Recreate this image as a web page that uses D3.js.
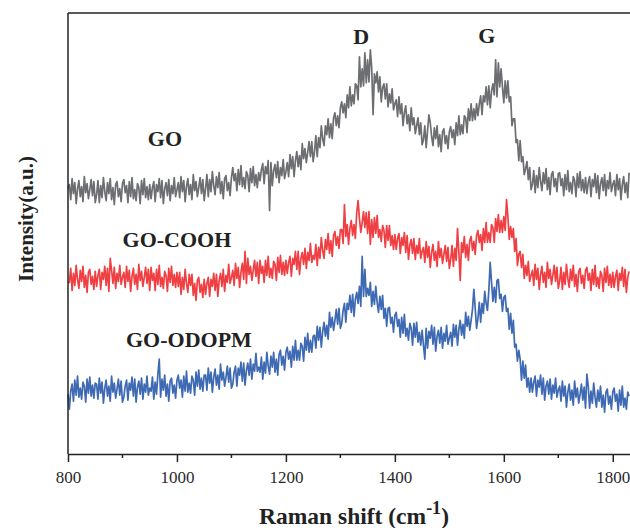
<!DOCTYPE html>
<html>
<head>
<meta charset="utf-8">
<script src="https://d3js.org/d3.v7.min.js"></script>
<style>
  body { margin: 0; background: #fff; }
  svg { display: block; }
</style>
</head>
<body>
<div id="chart"></div>
<script>
// Raman spectra, sampled every 2.5 cm-1 from 800 to 1830 (413 points each)
const shiftStart = 800;
const shiftStep  = 2.5;

const xTicks = [800, 1000, 1200, 1400, 1600, 1800];
const xMinorTicks = [900, 1100, 1300, 1500, 1700];

const seriesNames = ["GO", "GO-COOH", "GO-ODOPM"];
const peakNames   = ["D", "G"];

// intensity (a.u., each curve already offset)
// one row = 50 cm-1
const goValues = [
  266,
  270, 255, 276, 261, 272, 251, 266, 274, 258, 268, 253, 278, 262, 271, 256, 265, 275, 259, 273, 252,
  260, 274, 252, 269, 257, 277, 263, 254, 272, 261, 276, 255, 267, 250, 270, 273, 258, 266, 253, 271,
  275, 262, 269, 252, 273, 258, 277, 256, 265, 254, 271, 267, 251, 274, 260, 276, 257, 268, 255, 270,
  256, 267, 273, 253, 270, 263, 276, 257, 274, 251, 266, 272, 259, 275, 254, 269, 261, 277, 258, 265,
  272, 257, 278, 263, 274, 253, 268, 276, 260, 270, 255, 280, 264, 273, 258, 267, 277, 261, 275, 254,
  266, 280, 258, 275, 263, 283, 269, 260, 278, 267, 282, 261, 273, 256, 276, 279, 264, 272, 259, 277,
  287, 274, 281, 264, 285, 270, 289, 268, 277, 266, 283, 279, 263, 286, 272, 288, 269, 280, 267, 282,
  274, 285, 291, 271, 288, 281, 294, 244, 292, 269, 284, 290, 277, 293, 272, 287, 279, 295, 276, 283,
  292, 278, 300, 286, 298, 278, 294, 303, 288, 299, 285, 311, 296, 306, 292, 302, 313, 298, 313, 293,
  303, 319, 298, 317, 307, 329, 316, 309, 329, 320, 336, 317, 331, 316, 337, 342, 329, 339, 327, 347,
  353, 342, 351, 337, 360, 347, 368, 349, 360, 351, 371, 369, 355, 398, 368, 386, 369, 402, 372, 395,
  373, 405, 387, 340, 381, 372, 383, 363, 378, 353, 367, 371, 356, 371, 348, 361, 352, 366, 345, 351,
  355, 338, 358, 341, 351, 329, 342, 349, 331, 340, 324, 347, 330, 337, 321, 329, 337, 320, 332, 310,
  315, 329, 307, 324, 340, 332, 318, 309, 327, 316, 329, 308, 320, 303, 323, 326, 311, 319, 306, 323,
  328, 317, 325, 310, 332, 319, 339, 320, 330, 321, 339, 337, 322, 346, 334, 351, 334, 346, 335, 351,
  339, 351, 359, 340, 359, 353, 368, 350, 369, 347, 364, 371, 360, 395, 358, 392, 368, 386, 368, 352,
  374, 357, 374, 353, 358, 329, 336, 336, 312, 315, 294, 314, 293, 298, 280, 286, 293, 275, 287, 265,
  270, 284, 262, 279, 267, 287, 273, 264, 282, 271, 286, 265, 277, 260, 280, 283, 268, 276, 263, 281,
  282, 269, 276, 259, 280, 265, 284, 263, 272, 261, 278, 274, 258, 281, 267, 283, 264, 275, 262, 277,
  261, 272, 278, 258, 275, 268, 281, 262, 279, 256, 271, 277, 264, 280, 259, 274, 266, 282, 263, 270,
  274, 259, 280, 265, 276, 255, 270, 278, 262, 272, 257, 282
];

const goCoohValues = [
  172,
  172, 186, 164, 181, 169, 189, 175, 166, 184, 173, 188, 167, 179, 162, 182, 185, 170, 178, 165, 183,
  168, 179, 185, 165, 182, 175, 188, 169, 186, 163, 196, 184, 171, 187, 166, 181, 173, 189, 170, 177,
  182, 167, 188, 173, 184, 163, 178, 186, 170, 180, 165, 190, 174, 183, 168, 177, 187, 171, 185, 164,
  187, 174, 181, 164, 185, 170, 189, 168, 177, 166, 183, 179, 163, 186, 172, 188, 169, 180, 167, 182,
  168, 182, 160, 177, 165, 185, 171, 162, 180, 169, 180, 159, 171, 154, 174, 177, 162, 170, 157, 175,
  160, 171, 177, 158, 175, 168, 181, 164, 180, 158, 174, 181, 168, 185, 163, 179, 172, 190, 171, 177,
  184, 169, 191, 176, 187, 167, 182, 191, 175, 203, 171, 196, 180, 188, 174, 184, 194, 178, 192, 171,
  194, 181, 188, 172, 194, 179, 198, 177, 186, 176, 193, 190, 174, 197, 182, 199, 180, 192, 179, 194,
  181, 192, 198, 178, 196, 190, 203, 185, 203, 180, 196, 202, 190, 206, 186, 202, 194, 211, 192, 199,
  195, 210, 189, 207, 196, 217, 204, 196, 215, 205, 221, 201, 214, 198, 219, 223, 209, 218, 206, 225,
  225, 211, 250, 218, 230, 210, 226, 234, 219, 230, 216, 242, 254, 236, 222, 232, 243, 227, 242, 221,
  243, 210, 235, 217, 237, 221, 239, 217, 225, 213, 229, 224, 207, 229, 214, 229, 209, 219, 205, 220,
  205, 216, 221, 201, 217, 209, 222, 202, 219, 195, 209, 215, 201, 216, 195, 209, 201, 216, 196, 203,
  207, 192, 213, 197, 208, 187, 202, 210, 194, 203, 188, 213, 197, 206, 191, 200, 209, 193, 207, 186,
  195, 209, 188, 206, 194, 226, 202, 174, 212, 202, 218, 197, 210, 194, 214, 218, 204, 213, 200, 219,
  224, 212, 220, 204, 226, 212, 232, 212, 222, 212, 230, 227, 212, 236, 223, 240, 222, 234, 222, 238,
  224, 255, 238, 215, 228, 217, 226, 203, 216, 189, 200, 203, 187, 200, 176, 189, 179, 193, 173, 179,
  184, 169, 190, 175, 186, 165, 180, 188, 172, 182, 167, 192, 176, 185, 170, 179, 189, 173, 187, 166,
  173, 187, 165, 182, 170, 190, 176, 167, 185, 174, 189, 168, 180, 163, 183, 186, 171, 179, 166, 184,
  187, 174, 181, 164, 185, 170, 189, 168, 177, 166, 183, 179, 163, 186, 172, 188, 169, 180, 167, 182,
  167, 178, 184, 164, 181, 174, 187, 168, 185, 162, 177, 183
];

const goOdopmValues = [
  60,
  45, 63, 70, 53, 74, 59, 78, 57, 66, 55, 72, 68, 52, 75, 61, 77, 58, 69, 56, 71,
  70, 55, 76, 61, 72, 51, 66, 74, 58, 68, 53, 78, 62, 71, 56, 65, 75, 59, 73, 52,
  57, 68, 74, 54, 71, 64, 77, 58, 75, 52, 67, 73, 60, 76, 55, 70, 62, 78, 59, 66,
  63, 77, 55, 72, 60, 80, 95, 57, 75, 64, 79, 58, 70, 53, 73, 76, 61, 69, 56, 74,
  79, 66, 74, 57, 78, 63, 83, 62, 71, 61, 78, 74, 59, 82, 68, 84, 65, 76, 63, 79,
  79, 64, 86, 71, 82, 62, 77, 85, 69, 79, 65, 90, 74, 82, 68, 77, 88, 72, 86, 66,
  70, 82, 88, 68, 86, 79, 92, 73, 91, 69, 84, 91, 79, 95, 75, 90, 83, 101, 83, 87,
  82, 97, 75, 92, 81, 102, 88, 80, 98, 87, 102, 82, 95, 79, 100, 104, 89, 98, 84, 102,
  107, 95, 103, 87, 108, 94, 114, 94, 104, 94, 111, 108, 93, 117, 104, 121, 102, 114, 102, 118,
  119, 106, 128, 114, 127, 107, 123, 132, 118, 129, 115, 142, 127, 137, 124, 134, 145, 130, 146, 126,
  131, 144, 151, 132, 151, 145, 159, 142, 160, 138, 155, 162, 151, 168, 148, 198, 158, 185, 158, 166,
  159, 172, 148, 163, 150, 168, 152, 142, 158, 145, 159, 136, 146, 128, 146, 147, 131, 137, 122, 139,
  142, 128, 135, 117, 137, 121, 140, 118, 126, 114, 131, 126, 109, 131, 117, 132, 112, 122, 109, 124,
  109, 95, 126, 106, 123, 116, 129, 110, 127, 103, 118, 124, 111, 127, 106, 121, 113, 129, 110, 116,
  122, 108, 130, 117, 129, 109, 125, 134, 119, 130, 116, 142, 128, 138, 124, 134, 145, 165, 146, 126,
  136, 152, 132, 151, 141, 163, 151, 144, 164, 192, 172, 153, 167, 152, 174, 175, 156, 160, 143, 157,
  159, 143, 146, 125, 141, 121, 134, 107, 110, 93, 104, 95, 74, 93, 76, 89, 67, 76, 62, 76,
  62, 72, 78, 58, 74, 67, 79, 60, 76, 54, 68, 73, 60, 75, 55, 69, 61, 76, 57, 64,
  68, 53, 73, 58, 68, 47, 62, 70, 54, 64, 49, 73, 57, 66, 51, 60, 70, 54, 67, 46,
  80, 68, 46, 63, 51, 71, 57, 47, 64, 53, 68, 47, 59, 42, 62, 65, 50, 58, 45, 62,
  66, 53, 60, 43, 64, 49, 68, 47, 56, 45, 62, 58
];

const seriesValues = [goValues, goCoohValues, goOdopmValues];
const seriesColors = ["#6d6e71", "#ef3f43", "#3e69b3"];

// label anchor points in data units: [shift, intensity]
const seriesLabelPos = [[978, 309], [1000, 207], [1022, 107]];
const peakLabelPos   = [[1338, 411], [1569, 412]];

var width  = 630,
    height = 528;
var margin = {top: 13, left: 68, bottom: 454};

var svg = d3.select("#chart")
    .append("svg")
    .attr("width", width)
    .attr("height", height)
    .style("font-family", "'Liberation Serif', 'Times New Roman', serif");

var x = d3.scaleLinear()
    .domain([800, 1850])
    .range([margin.left, 640]);

var y = d3.scaleLinear()
    .domain([0, 442])
    .range([margin.bottom, margin.top]);

// curves
var line = d3.line()
    .x((d, i) => x(shiftStart + i * shiftStep))
    .y(d => y(d));

seriesValues.forEach(function(vals, k) {
    svg.append("path")
        .datum(vals)
        .attr("fill", "none")
        .attr("stroke", seriesColors[k])
        .attr("stroke-width", 1.7)
        .attr("stroke-linejoin", "round")
        .attr("d", line);
});

// frame: top and left lines
svg.append("line")
    .attr("x1", margin.left).attr("x2", width)
    .attr("y1", margin.top).attr("y2", margin.top)
    .attr("stroke", "#222").attr("stroke-width", 1.5);

svg.append("line")
    .attr("x1", margin.left).attr("x2", margin.left)
    .attr("y1", margin.top).attr("y2", margin.bottom)
    .attr("stroke", "#222").attr("stroke-width", 1.5);

// bottom axis
var xAxis = svg.append("g")
    .attr("transform", "translate(0," + margin.bottom + ")")
    .call(d3.axisBottom(x)
        .tickValues(xTicks)
        .tickFormat(d3.format("d"))
        .tickSize(8)
        .tickPadding(9)
        .tickSizeOuter(0));

xAxis.select(".domain").attr("stroke", "#222").attr("stroke-width", 1.5);
xAxis.selectAll(".tick line").attr("stroke", "#222").attr("stroke-width", 1.5);
xAxis.selectAll(".tick text")
    .attr("fill", "#2a2a2a")
    .style("font-family", "'Liberation Serif', 'Times New Roman', serif")
    .style("font-size", "17px");

svg.append("g")
    .selectAll("line")
    .data(xMinorTicks)
    .enter()
    .append("line")
    .attr("x1", d => x(d)).attr("x2", d => x(d))
    .attr("y1", margin.bottom).attr("y2", margin.bottom + 4)
    .attr("stroke", "#222").attr("stroke-width", 1.5);

// axis titles
var xTitle = svg.append("text")
    .attr("x", 354)
    .attr("y", 524)
    .attr("text-anchor", "middle")
    .attr("fill", "#222")
    .style("font-weight", "bold")
    .style("font-size", "23.5px");
xTitle.append("tspan").text("Raman shift (cm");
xTitle.append("tspan").attr("dy", -10).style("font-size", "18px").text("-1");
xTitle.append("tspan").attr("dy", 10).text(")");

svg.append("text")
    .attr("transform", "translate(33,219) rotate(-90)")
    .attr("text-anchor", "middle")
    .attr("fill", "#222")
    .style("font-weight", "bold")
    .style("font-size", "21px")
    .text("Intensity(a.u.)");

// series and peak labels
svg.selectAll(".series-label")
    .data(seriesNames)
    .enter()
    .append("text")
    .attr("class", "series-label")
    .attr("x", (d, i) => x(seriesLabelPos[i][0]))
    .attr("y", (d, i) => y(seriesLabelPos[i][1]))
    .attr("text-anchor", "middle")
    .attr("fill", "#222")
    .style("font-weight", "bold")
    .style("font-size", "22px")
    .text(d => d);

svg.selectAll(".peak-label")
    .data(peakNames)
    .enter()
    .append("text")
    .attr("class", "peak-label")
    .attr("x", (d, i) => x(peakLabelPos[i][0]))
    .attr("y", (d, i) => y(peakLabelPos[i][1]))
    .attr("text-anchor", "middle")
    .attr("fill", "#222")
    .style("font-weight", "bold")
    .style("font-size", "22px")
    .text(d => d);
</script>
</body>
</html>
